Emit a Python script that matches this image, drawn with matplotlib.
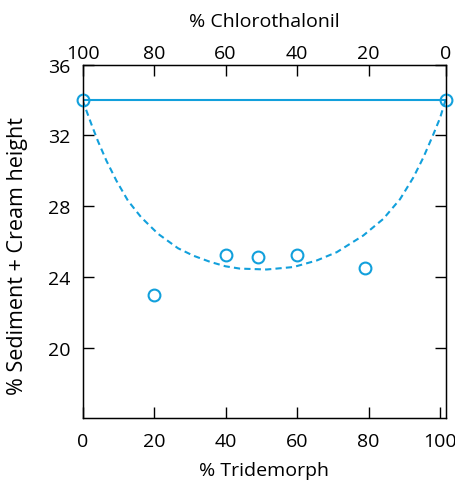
import matplotlib
matplotlib.use("Agg")
import matplotlib.pyplot as plt

# measured points (% Tridemorph, % sediment + cream height)
tride = [0, 20, 40, 49, 60, 79, 101.5]
height = [34, 23.0, 25.25, 25.1, 25.25, 24.5, 34]

# straight line between the pure products
line_x = [0, 101.5]
line_y = [34, 34]

# dashed fitted curve
fit_x = [0, 2.5, 4.3, 6.7, 9.5, 12.7, 16.4, 21.1, 26.7, 31, 35.7, 40, 44,
         51.5, 59, 65.5, 71.1, 78.5, 84.1, 88.8, 92.5, 95.3, 98.1, 100, 101.5]
fit_y = [34, 32.62, 31.68, 30.56, 29.43, 28.31, 27.37, 26.44, 25.62, 25.2,
         24.85, 24.6, 24.47, 24.42, 24.56, 24.93, 25.4, 26.34, 27.28, 28.4,
         29.62, 30.75, 32.06, 33.0, 34]

bottom_ticks = [0, 20, 40, 60, 80, 100]
top_pos = [0, 20, 40, 60, 80, 101.5]
top_labels = ["100", "80", "60", "40", "20", "0"]
y_ticks = [20, 24, 28, 32, 36]

blue = "#12a0dc"
plt.rcParams["font.family"] = ["Open Sans", "DejaVu Sans"]
plt.rcParams["font.size"] = 14

fig = plt.figure(figsize=(4.56, 4.81), dpi=100)
ax = fig.add_axes([0.181, 0.128, 0.796, 0.7355])

ax.plot(line_x, line_y, color=blue, lw=1.5)
ax.plot(fit_x, fit_y, color=blue, lw=1.5, linestyle=(0, (3, 2)))
ax.plot(tride, height, "o", color=blue, mfc="none", ms=8.5, mew=1.5,
        clip_on=False, zorder=5)

ax.set_xlim(0, 101.5)
ax.set_ylim(16, 36)
ax.set_xticks(bottom_ticks)
ax.set_yticks(y_ticks)
ax.tick_params(direction="in", length=8, width=1, right=True, pad=9,
               labelsize=14)
ax.tick_params(axis="x", pad=10)
for s in ax.spines.values():
    s.set_linewidth(1)
ax.set_xlabel("% Tridemorph", labelpad=8)
ax.set_ylabel("% Sediment + Cream height", fontsize=15.5)
ax.yaxis.set_label_coords(-0.15, 0.462)

top = ax.twiny()
top.set_xlim(ax.get_xlim())
top.set_xticks(top_pos)
top.set_xticklabels(top_labels)
top.tick_params(direction="in", length=8, width=1, pad=2, labelsize=14)
top.set_xlabel("% Chlorothalonil", labelpad=13)

fig.savefig("out.png", dpi=100)
